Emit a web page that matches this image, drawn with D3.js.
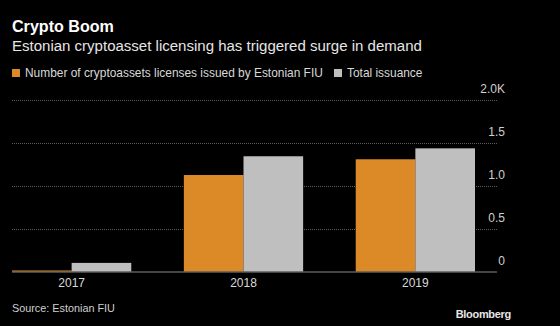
<!DOCTYPE html>
<html>
<head>
<meta charset="utf-8">
<script src="https://cdn.jsdelivr.net/npm/d3@7"></script>
<style>
  body { margin: 0; background: #000; }
  svg { display: block; font-family: "Liberation Sans", Arial, sans-serif; }
</style>
</head>
<body>
<div id="chart"></div>
<script>
// data
var years = ["2017", "2018", "2019"];
var seriesNames = ["Number of cryptoassets licenses issued by Estonian FIU", "Total issuance"];
var licensesFIU = [12, 1122, 1305];
var totalIssuance = [100, 1340, 1432];
var yTicks = [0, 500, 1000, 1500, 2000];
var yTickLabels = ["0", "0.5", "1.0", "1.5", "2.0K"];

var colors = ["#dc8a27", "#bfbfbf"];

var width = 560, height = 326;
var margin = {top: 99.5, left: 12, bottom: 54.5};

var svg = d3.select("#chart")
  .append("svg")
    .attr("width", width)
    .attr("height", height);

svg.append("rect").attr("width", width).attr("height", height).attr("fill", "#000");

function fitWidth(sel, w) {
  var len = sel.node().getComputedTextLength();
  if (len > 0) sel.attr("font-size", +sel.attr("font-size") * w / len);
}

// title, subtitle
svg.append("text")
  .attr("x", 12).attr("y", 32)
  .attr("fill", "#fff")
  .attr("font-size", 16)
  .attr("font-weight", "bold")
  .text("Crypto Boom")
  .call(fitWidth, 102);
svg.append("text")
  .attr("x", 12).attr("y", 51)
  .attr("fill", "#e6e6e6")
  .attr("font-size", 15.5)
  .text("Estonian cryptoasset licensing has triggered surge in demand")
  .call(fitWidth, 410);

// legend
var legendX = [12, 334];
var legendFont = 11;
seriesNames.forEach(function(name, i) {
  svg.append("rect")
    .attr("x", legendX[i]).attr("y", 69)
    .attr("width", 8).attr("height", 8)
    .attr("fill", colors[i]);
  var t = svg.append("text")
    .attr("x", legendX[i] + 13).attr("y", 77)
    .attr("fill", "#d9d9d9")
    .attr("font-size", legendFont)
    .text(name);
  if (i == 0) {
    t.call(fitWidth, 298);
    legendFont = +t.attr("font-size");
  }
});

// scales
var x0 = d3.scaleBand()
  .domain(years)
  .range([12, 475])
  .paddingInner(0.306)
  .paddingOuter(0);
var x1 = d3.scaleBand()
  .domain([0, 1])
  .range([0, x0.bandwidth()]);
var y = d3.scaleLinear()
  .domain([0, 2000])
  .range([height - margin.bottom, margin.top]);

// gridlines + right tick labels
svg.append("g")
  .selectAll("line")
  .data(yTicks.slice(1))
  .enter().append("line")
    .attr("x1", 12).attr("x2", 497)
    .attr("y1", function(d) { return Math.round(y(d)) + 0.5; })
    .attr("y2", function(d) { return Math.round(y(d)) + 0.5; })
    .attr("stroke", "#5a5a5a")
    .attr("stroke-dasharray", "1,1");

svg.append("g")
  .selectAll("text")
  .data(yTicks)
  .enter().append("text")
    .attr("x", 505)
    .attr("y", function(d) { return y(d) - 7; })
    .attr("text-anchor", "end")
    .attr("fill", "#cfcfcf")
    .attr("font-size", 12)
    .text(function(d, i) { return yTickLabels[i]; });

// bars
var rows = years.map(function(yr, i) { return {year: yr, vals: [licensesFIU[i], totalIssuance[i]]}; });
svg.append("g")
  .selectAll("g")
  .data(rows)
  .enter().append("g")
    .attr("transform", function(d) { return "translate(" + x0(d.year) + ",0)"; })
  .selectAll("rect")
  .data(function(d) { return d.vals; })
  .enter().append("rect")
    .attr("x", function(d, i) { return x1(i); })
    .attr("width", x1.bandwidth())
    .attr("y", function(d) { return y(d); })
    .attr("height", function(d) { return y(0) - y(d); })
    .attr("fill", function(d, i) { return colors[i]; });

// baseline
svg.append("line")
  .attr("x1", 12).attr("x2", 497)
  .attr("y1", y(0) + 0.5).attr("y2", y(0) + 0.5)
  .attr("stroke", "#8c8c8c");

// x axis labels
var xAxis = d3.axisBottom(x0).tickSize(0).tickPadding(7);
var gx = svg.append("g")
  .attr("transform", "translate(0," + y(0) + ")")
  .call(xAxis);
gx.select(".domain").remove();
gx.selectAll("text")
  .attr("fill", "#d9d9d9")
  .attr("font-size", 12)
  .attr("font-family", null);

// footer
svg.append("text")
  .attr("x", 12).attr("y", 312)
  .attr("fill", "#cfcfcf")
  .attr("font-size", 11.5)
  .text("Source: Estonian FIU")
  .call(fitWidth, 103);
svg.append("text")
  .attr("x", 511).attr("y", 318)
  .attr("text-anchor", "end")
  .attr("fill", "#e6e6e6")
  .attr("font-size", 11)
  .attr("font-weight", "bold")
  .attr("letter-spacing", -0.3)
  .text("Bloomberg");
</script>
</body>
</html>
